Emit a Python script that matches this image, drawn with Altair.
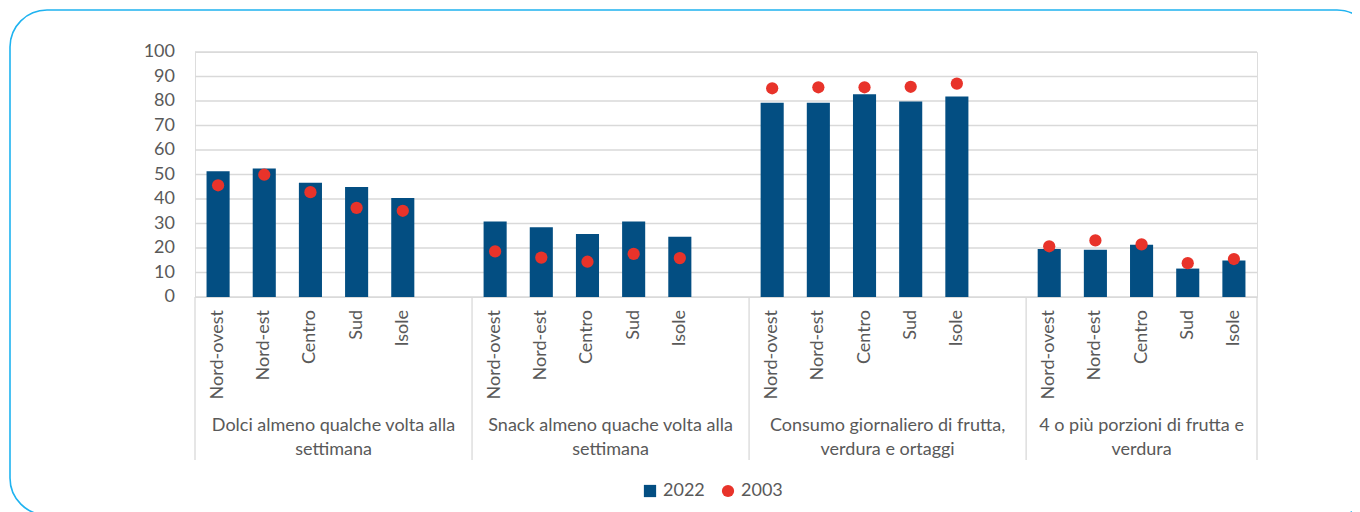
import altair as alt
import pandas as pd

# ---- data ----
groups = [
    "Dolci almeno qualche volta alla\nsettimana",
    "Snack almeno quache volta alla\nsettimana",
    "Consumo giornaliero di frutta,\nverdura e ortaggi",
    "4 o più porzioni di frutta e\nverdura",
]
regions = ["Nord-ovest", "Nord-est", "Centro", "Sud", "Isole"]
series_names = ["2022", "2003"]

values_2022 = [51.3, 52.4, 46.6, 44.9, 40.4,
               30.8, 28.5, 25.7, 30.8, 24.6,
               79.3, 79.3, 82.8, 79.8, 81.8,
               19.6, 19.3, 21.3, 11.6, 14.9]
values_2003 = [45.6, 49.9, 42.8, 36.4, 35.2,
               18.6, 16.1, 14.4, 17.6, 15.9,
               85.2, 85.6, 85.6, 85.8, 87.1,
               20.7, 23.1, 21.5, 13.8, 15.5]

y_ticks = [0, 10, 20, 30, 40, 50, 60, 70, 80, 90, 100]

# ---- layout helpers (slots: 6 per group, last group 5) ----
n_slots = 23
group_starts = [0, 6, 12, 18]
group_ends = [6, 12, 18, 23]

rows = []
for gi, g in enumerate(groups):
    for ri, r in enumerate(regions):
        k = gi * 5 + ri
        slot = group_starts[gi] + ri
        for s, v in zip(series_names, [values_2022[k], values_2003[k]]):
            rows.append({"group": g, "region": r, "series": s, "value": v, "base": 0,
                         "x0": slot + 0.25, "x1": slot + 0.75, "xc": slot + 0.5})
df = pd.DataFrame(rows)

lab_df = df[df.series == "2022"][["region", "xc"]]
grp_df = pd.DataFrame({"label": groups,
                       "xc": [(a + b) / 2 for a, b in zip(group_starts, group_ends)]})
sep_df = pd.DataFrame({"x": [0, 6, 12, 18, 23]})
tick_df = pd.DataFrame({"v": y_ticks, "t": [str(v) for v in y_ticks]})

W, H = 1062, 245
FONT = "Lato"
TXT = "#595959"
BLUE = "#034E82"
RED = "#E8332A"
GRID = "#D9D9D9"

xs = alt.Scale(domain=[0, n_slots], nice=False, zero=False, padding=0)
ys = alt.Scale(domain=[0, 100], nice=False, padding=0)

color = alt.Color("series:N",
                  scale=alt.Scale(domain=series_names, range=[BLUE, RED]),
                  legend=alt.Legend(title=None, orient="none", direction="horizontal",
                                    legendX=446, legendY=430,
                                    labelFont=FONT, labelFontSize=18, labelColor=TXT,
                                    symbolSize=150, symbolStrokeWidth=0,
                                    labelOffset=4, columnPadding=14))
shape = alt.Shape("series:N",
                  scale=alt.Scale(domain=series_names, range=["square", "circle"]))

grid = alt.Chart(tick_df).mark_rule(color=GRID, strokeWidth=1.3).encode(
    y=alt.Y("v:Q", scale=ys, axis=None),
    x=alt.value(0), x2=alt.value(W),
)
tick_labels = alt.Chart(tick_df).mark_text(
    align="right", baseline="middle", font=FONT, fontSize=18, color=TXT).encode(
    y=alt.Y("v:Q", scale=ys, axis=None),
    x=alt.value(-20),
    text="t:N",
)

base = alt.Chart(df)

bars = base.transform_filter(alt.datum.series == "2022").mark_bar(
    color=BLUE).encode(
    x=alt.X("x0:Q", scale=xs, axis=None),
    x2="x1:Q",
    y=alt.Y("value:Q", scale=ys, axis=None),
    y2="base:Q",
    color=color,
    shape=shape,
)

points = base.transform_filter(alt.datum.series == "2003").mark_point(
    filled=True, size=150, opacity=1).encode(
    x=alt.X("xc:Q", scale=xs, axis=None),
    y=alt.Y("value:Q", scale=ys, axis=None),
    color=color,
    shape=shape,
)

region_labels = alt.Chart(lab_df).mark_text(
    angle=270, align="right", baseline="middle", font=FONT, fontSize=18,
    color=TXT).encode(
    x=alt.X("xc:Q", scale=xs, axis=None),
    y=alt.value(H + 13),
    text="region:N",
)

group_labels = alt.Chart(grp_df).mark_text(
    align="center", baseline="alphabetic", font=FONT, fontSize=18,
    color=TXT, lineBreak="\n", lineHeight=24).encode(
    x=alt.X("xc:Q", scale=xs, axis=None),
    y=alt.value(H + 134),
    text="label:N",
)

seps = alt.Chart(sep_df).mark_rule(color=GRID, strokeWidth=1.3).encode(
    x=alt.X("x:Q", scale=xs, axis=None),
    y=alt.value(H),
    y2=alt.value(H + 163),
)

frame = alt.Chart(pd.DataFrame({"k": [0]})).mark_rect(
    fill=None, filled=False, stroke="#1FB3F0", strokeWidth=1.6, cornerRadius=37,
    clip=False).encode(
    x=alt.value(-185), x2=alt.value(1179),
    y=alt.value(-42), y2=alt.value(463),
)

chart = alt.layer(frame, grid, tick_labels, bars, points, seps,
                  region_labels, group_labels).properties(
    width=W, height=H,
    autosize=alt.AutoSizeParams(type="none"),
    padding={"left": 187, "top": 44, "right": 95, "bottom": 215},
).configure_view(stroke=None).configure(background="white")

chart.save("out.html", embed_options={"renderer": "svg", "actions": False})
